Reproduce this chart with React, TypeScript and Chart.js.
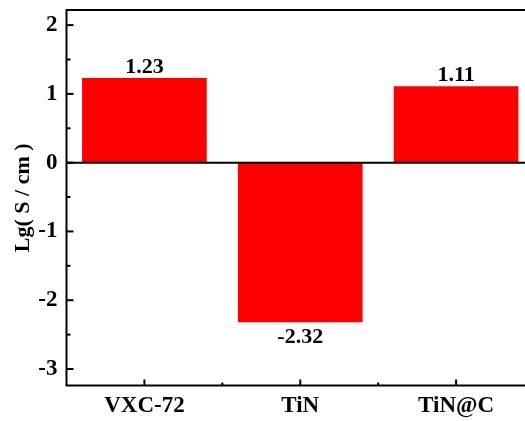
import { useEffect, useRef } from "react";
import { Chart, registerables } from "chart.js";

Chart.register(...registerables);

// Conductivity (log10 of S/cm) for each sample
const categories = ["VXC-72", "TiN", "TiN@C"];
const conductivityLog = [1.23, -2.32, 1.11];
const valueLabels = ["1.23", "-2.32", "1.11"];
const yMajorTicks = [-3, -2, -1, 0, 1, 2];
const yMinorTicks = [-2.5, -1.5, -0.5, 0.5, 1.5];
const yMin = -3.24;
const yMax = 2.22;

const FONT = "'Liberation Serif', 'Times New Roman', serif";

// Draws the framed box, inward tick marks, zero baseline and value labels
const framePlugin = {
  id: "frameAndLabels",
  afterDatasetsDraw(chart: any) {
    const { ctx, chartArea: a, scales } = chart;
    const x = scales.x;
    const y = scales.y;
    const line = (x1: number, y1: number, x2: number, y2: number) => {
      ctx.beginPath();
      ctx.moveTo(x1, y1);
      ctx.lineTo(x2, y2);
      ctx.stroke();
    };
    ctx.save();
    ctx.strokeStyle = "#000";
    ctx.lineWidth = 2;

    // zero baseline
    const y0 = y.getPixelForValue(0);
    line(a.left, y0, a.right, y0);

    // frame
    ctx.strokeRect(a.left, a.top, a.right - a.left, a.bottom - a.top);

    // y ticks (inward)
    yMajorTicks.forEach((v) => {
      const py = y.getPixelForValue(v);
      line(a.left, py, a.left + 7, py);
    });
    yMinorTicks.forEach((v) => {
      const py = y.getPixelForValue(v);
      line(a.left, py, a.left + 4, py);
    });

    // x ticks (inward): major at category centres, minor between them
    const centres = categories.map((_, i) => x.getPixelForValue(i));
    centres.forEach((px) => line(px, a.bottom, px, a.bottom - 6));
    for (let i = 0; i < centres.length - 1; i++) {
      const px = (centres[i] + centres[i + 1]) / 2;
      line(px, a.bottom, px, a.bottom - 3);
    }

    // value labels
    const meta = chart.getDatasetMeta(0);
    ctx.fillStyle = "#000";
    ctx.font = `bold 22px ${FONT}`;
    ctx.textAlign = "center";
    meta.data.forEach((bar: any, i: number) => {
      const v = conductivityLog[i];
      if (v >= 0) {
        ctx.textBaseline = "bottom";
        ctx.fillText(valueLabels[i], bar.x, bar.y);
      } else {
        ctx.textBaseline = "top";
        ctx.fillText(valueLabels[i], bar.x, bar.y + 4);
      }
    });
    ctx.restore();
  },
};

export default function App() {
  const canvasRef = useRef<HTMLCanvasElement | null>(null);

  useEffect(() => {
    const canvas = canvasRef.current;
    if (!canvas) return;
    const chart = new Chart(canvas, {
      type: "bar",
      data: {
        labels: categories,
        datasets: [
          {
            data: conductivityLog,
            backgroundColor: "#ff0000",
            borderWidth: 0,
            barPercentage: 0.8,
            categoryPercentage: 1,
          },
        ],
      },
      options: {
        responsive: false,
        animation: false,
        layout: { padding: { top: 10, right: 11, left: 0, bottom: 0 } },
        plugins: {
          legend: { display: false },
          tooltip: { enabled: false },
        },
        scales: {
          x: {
            type: "category",
            offset: true,
            grid: { display: false, drawTicks: false },
            border: { display: false },
            ticks: {
              color: "#000",
              padding: 7,
              font: { family: FONT, size: 23, weight: "bold" },
            },
            afterFit: (s: any) => {
              s.height = 35.5;
              s.paddingLeft = 0;
              s.paddingRight = 0;
            },
          },
          y: {
            type: "linear",
            min: yMin,
            max: yMax,
            grid: { display: false, drawTicks: false },
            border: { display: false },
            afterBuildTicks: (s: any) => {
              s.ticks = yMajorTicks.map((v) => ({ value: v }));
            },
            ticks: {
              color: "#000",
              padding: 9,
              font: { family: FONT, size: 23, weight: "bold" },
            },
            title: {
              display: true,
              text: "Lg( S / cm )",
              color: "#000",
              font: { family: FONT, size: 22, weight: "bold" },
              padding: { top: 10, bottom: 0 },
            },
            afterFit: (s: any) => {
              s.width = 66.5;
              s.paddingTop = 0;
              s.paddingBottom = 0;
            },
          },
        },
      },
      plugins: [framePlugin],
    });
    return () => chart.destroy();
  }, []);

  return (
    <div
      style={{
        position: "fixed",
        left: 0,
        top: 0,
        width: 525,
        height: 421,
        overflow: "hidden",
        background: "#fff",
      }}
    >
      <canvas
        ref={canvasRef}
        width={545}
        height={421}
        style={{ display: "block", width: 545, height: 421 }}
      />
    </div>
  );
}
